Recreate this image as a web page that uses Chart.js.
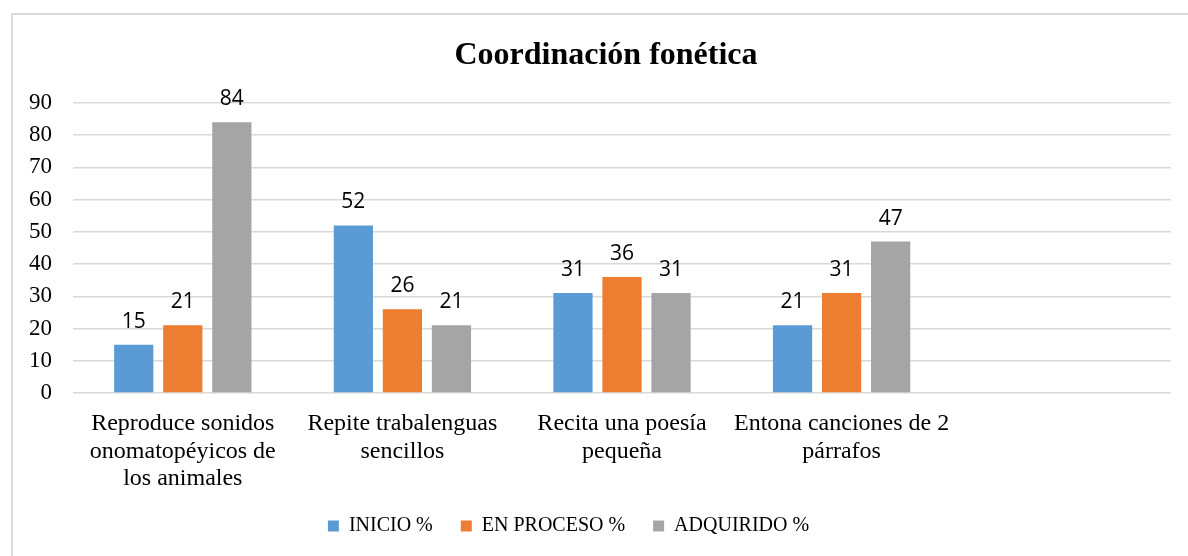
<!DOCTYPE html>
<html>
<head>
<meta charset="utf-8">
<script src="https://cdn.jsdelivr.net/npm/chart.js@4/dist/chart.umd.min.js"></script>
<style>
  html, body { margin: 0; padding: 0; background: #fff; }
  #wrap { width: 1188px; height: 556px; }
</style>
</head>
<body>
<div id="wrap"><canvas id="myChart" width="1188" height="556"></canvas></div>
<script>
// Data for the chart
const categories = [
  ["Reproduce sonidos", "onomatopéyicos de", "los animales"],
  ["Repite trabalenguas", "sencillos"],
  ["Recita una poesía", "pequeña"],
  ["Entona canciones de 2", "párrafos"],
  ""
];
const seriesNames = ["INICIO %", "EN PROCESO %", "ADQUIRIDO %"];
const inicio = [15, 52, 31, 21, null];
const enProceso = [21, 26, 36, 31, null];
const adquirido = [84, 21, 31, 47, null];
const yTicks = [0, 10, 20, 30, 40, 50, 60, 70, 80, 90];

const colors = ["#5B9BD5", "#ED7D31", "#A5A5A5"];
const serif = "'Liberation Serif', 'Times New Roman', serif";

// frame + title + value labels
const extras = {
  id: "extras",
  afterLayout(chart) {
    // legend sits a bit left of the page centre in the original
    chart.legend.left -= 27;
    chart.legend.right -= 27;
  },
  beforeDraw(chart) {
    const c = chart.ctx;
    c.save();
    c.strokeStyle = "#d9d9d9";
    c.lineWidth = 2;
    c.strokeRect(12, 14, 1300, 700);
    c.restore();
  },
  afterDatasetsDraw(chart) {
    const c = chart.ctx;
    c.save();
    c.fillStyle = "#000";
    c.font = "21px 'Open Sans', sans-serif";
    c.textAlign = "center";
    c.textBaseline = "alphabetic";
    chart.data.datasets.forEach((ds, i) => {
      chart.getDatasetMeta(i).data.forEach((bar, j) => {
        if (ds.data[j] == null) return;
        c.fillText(String(ds.data[j]), bar.x, bar.y - 17);
      });
    });
    // title
    c.font = "bold 32px " + serif;
    c.textBaseline = "middle";
    c.fillText("Coordinación fonética", 606, 56);
    c.restore();
  }
};

const ctx = document.getElementById("myChart").getContext("2d");
new Chart(ctx, {
  type: "bar",
  data: {
    labels: categories,
    datasets: [
      { label: seriesNames[0], data: inicio, backgroundColor: colors[0] },
      { label: seriesNames[1], data: enProceso, backgroundColor: colors[1] },
      { label: seriesNames[2], data: adquirido, backgroundColor: colors[2] },
    ],
  },
  options: {
    responsive: false,
    animation: false,
    devicePixelRatio: 1,
    categoryPercentage: 0.67,
    barPercentage: 0.8,
    layout: { padding: { left: 20, right: 17, top: 103, bottom: 10 } },
    plugins: {
      title: { display: false },
      tooltip: { enabled: false },
      legend: {
        position: "bottom",
        labels: {
          color: "#000",
          font: { family: serif, size: 20 },
          boxWidth: 11,
          boxHeight: 11,
          padding: 28,
        },
      },
    },
    scales: {
      y: {
        min: 0,
        max: 90,
        afterBuildTicks(scale) {
          scale.ticks = yTicks.map((v) => ({ value: v }));
        },
        afterFit(scale) { scale.width = 53; },
        border: { display: false },
        grid: { color: "#d9d9d9", lineWidth: 1.5, drawTicks: false },
        ticks: { color: "#000", padding: 21, font: { family: serif, size: 23 } },
      },
      x: {
        afterFit(scale) { scale.height = 95; },
        border: { display: false },
        grid: { display: false },
        ticks: {
          color: "#000",
          padding: 9,
          maxRotation: 0,
          autoSkip: false,
          font: { family: serif, size: 24, lineHeight: 1.15 },
        },
      },
    },
  },
  plugins: [extras],
});
</script>
</body>
</html>
